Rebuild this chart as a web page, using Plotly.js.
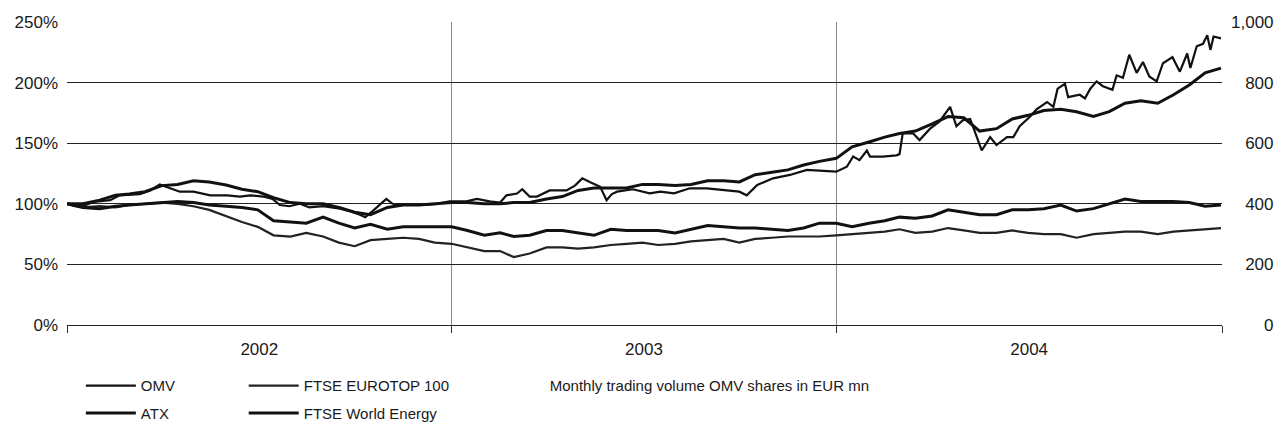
<!DOCTYPE html>
<html>
<head>
<meta charset="utf-8">
<script src="https://cdn.plot.ly/plotly-3.0.1.min.js"></script>
<style>
  html, body { margin: 0; padding: 0; background: #fff; }
  #chart { width: 1277px; height: 432px; }
</style>
</head>
<body>
<div id="chart"></div>
<script>
// Semi-monthly observation dates (ATX, FTSE EUROTOP 100, FTSE World Energy)
var dates = [
  '2002-01-01','2002-01-16','2002-02-01','2002-02-16','2002-03-01','2002-03-16','2002-04-01','2002-04-16','2002-05-01','2002-05-16','2002-06-01','2002-06-16',
  '2002-07-01','2002-07-16','2002-08-01','2002-08-16','2002-09-01','2002-09-16','2002-10-01','2002-10-16','2002-11-01','2002-11-16','2002-12-01','2002-12-16',
  '2003-01-01','2003-01-16','2003-02-01','2003-02-16','2003-03-01','2003-03-16','2003-04-01','2003-04-16','2003-05-01','2003-05-16','2003-06-01','2003-06-16',
  '2003-07-01','2003-07-16','2003-08-01','2003-08-16','2003-09-01','2003-09-16','2003-10-01','2003-10-16','2003-11-01','2003-11-16','2003-12-01','2003-12-16',
  '2004-01-01','2004-01-16','2004-02-01','2004-02-16','2004-03-01','2004-03-16','2004-04-01','2004-04-16','2004-05-01','2004-05-16','2004-06-01','2004-06-16',
  '2004-07-01','2004-07-16','2004-08-01','2004-08-16','2004-09-01','2004-09-16','2004-10-01','2004-10-16','2004-11-01','2004-11-16','2004-12-01','2004-12-16',
  '2004-12-31'
];

var atx = [
  100,100,103,107,108,110,115,116,119,118,115.5,112,110,105,101,100,100,97,93,91,97,99,99,100,
  101,101,100,100,101,101,104,106,111,113,113,113,116,116,115,116,119,119,118,124,126,128,132,135,
  137.5,147,151,155,158,160,166,172,171,160,162,170,173,177,178,176,172,176,183,185,183,190,198,208,212
];

var worldEnergy = [
  100,97,96,98,99,100,101,102,101,99,98,97,95,
  86,85,84,89,84,80,83,79,81,81,81,
  81,
  78,74,76,73,74,78,78,76,74,79,78,78,
  78,76,79,82,81,80,80,79,78,80,84,84,
  81,84,86,89,88,90,95,93,91,91,95,95,
  96,99,94,96,100,104,102,102,102,101,98,99
];

var eurotop = [
  100,97,98,97,99,100,101,100,98,95,90,85,81,74,73,76,73,68,65,70,71,72,71,68,67,
  64,61,61,56,59,64,64,63,64,66,67,68,
  66,67,69,70,71,68,71,72,73,73,73,74,75,76,77,79,76,77,
  80,78,76,76,78,76,75,75,72,75,76,77,77,75,77,78,79,80
];

// OMV share price (own, denser observation dates)
var omvDates = [
  '2002-01-01','2002-01-09','2002-01-16','2002-01-26','2002-02-11','2002-02-20','2002-03-11','2002-03-21','2002-03-30','2002-04-09',
  '2002-04-18','2002-05-01','2002-05-17','2002-06-02','2002-06-14','2002-06-24','2002-07-06','2002-07-15','2002-07-22','2002-07-31',
  '2002-08-10','2002-08-19','2002-09-01','2002-09-17','2002-09-26','2002-10-06','2002-10-11','2002-10-18','2002-10-25','2002-10-31',
  '2002-11-06','2002-11-19','2002-12-05','2002-12-18','2002-12-30',
  '2003-01-15','2003-01-25','2003-02-06','2003-02-16','2003-02-22','2003-03-04','2003-03-09','2003-03-16','2003-03-23','2003-04-04',
  '2003-04-20','2003-04-28','2003-05-05','2003-05-12','2003-05-22','2003-05-28','2003-06-02','2003-06-07','2003-06-22','2003-07-08',
  '2003-07-18','2003-07-31','2003-08-15','2003-08-31','2003-09-19','2003-10-01','2003-10-08','2003-10-18','2003-11-02','2003-11-18',
  '2003-12-04','2003-12-19',
  '2004-01-01','2004-01-11','2004-01-17','2004-01-23','2004-01-30','2004-02-02','2004-02-14','2004-02-27','2004-03-01','2004-03-04',
  '2004-03-14','2004-03-20','2004-03-30','2004-04-08','2004-04-15','2004-04-18','2004-04-24','2004-04-30','2004-05-07','2004-05-13',
  '2004-05-18','2004-05-26','2004-06-01','2004-06-11','2004-06-17','2004-06-23','2004-07-03','2004-07-09','2004-07-19','2004-07-25',
  '2004-07-29','2004-08-05','2004-08-08','2004-08-19','2004-08-24','2004-08-29','2004-09-04','2004-09-10','2004-09-19','2004-09-23',
  '2004-09-29','2004-10-05','2004-10-12','2004-10-18','2004-10-24','2004-10-31','2004-11-06','2004-11-15','2004-11-22','2004-11-29',
  '2004-12-02','2004-12-08','2004-12-14','2004-12-18','2004-12-21','2004-12-24','2004-12-31'
];
var omv = [
  100,98,98,101.5,103,107,108,111,116,113,
  110,110,107,107,106,107,106,104,99,98,
  100,97,98,96,94,91,89,94,99,104,
  100,99,99,100,102,
  102,104,102,101,107,108.5,112,106,106,111,
  111,115,121,118,114,103,108,110,112,108.6,
  110,108.6,112.8,112.8,111,110,107,115.5,121,123.8,
  128,127,
  126.5,130.6,139,136,144,139,139,140,141,158,
  158,152.6,162,168,177,180,164,169,170,155,
  144,155,148.5,155,155,164,172,178,184,180,
  195,199,188,190,187,195,201,197,194,206,
  204,223,208,217,205,201,216,221,209,224,
  212,230,232,239,227,238,236.5
];

// Monthly trading volume: bars are not legible in the source, so no values are drawn
var volumeDates = ['2002-01-01'];
var volume = [null];

var seriesNames = ['OMV', 'ATX', 'FTSE EUROTOP 100', 'FTSE World Energy'];
var volumeLabel = 'Monthly trading volume OMV shares in EUR mn';

var leftTickVals = [0, 50, 100, 150, 200, 250];
var leftTickText = ['0%', '50%', '100%', '150%', '200%', '250%'];
var rightTickVals = [0, 200, 400, 600, 800, 1000];
var rightTickText = ['\u00a0\u00a0\u00a0\u00a0\u00a0\u00a0\u00a00', '\u00a0\u00a0\u00a0200', '\u00a0\u00a0\u00a0400', '\u00a0\u00a0\u00a0600', '\u00a0\u00a0\u00a0800', '1,000'];

var FONT = '"Liberation Sans", Arial, Helvetica, sans-serif';
var INK = '#1a1a1a';

var traces = [
  { x: omvDates, y: omv, name: seriesNames[0], type: 'scatter', mode: 'lines',
    line: { color: '#111', width: 2.2 }, legend: 'legend', legendgroup: 'a' },
  { x: dates, y: atx, name: seriesNames[1], type: 'scatter', mode: 'lines',
    line: { color: '#111', width: 3 }, legend: 'legend', legendgroup: 'b' },
  { x: dates, y: eurotop, name: seriesNames[2], type: 'scatter', mode: 'lines',
    line: { color: '#222', width: 2.2 }, legend: 'legend2', legendgroup: 'c' },
  { x: dates, y: worldEnergy, name: seriesNames[3], type: 'scatter', mode: 'lines',
    line: { color: '#111', width: 3 }, legend: 'legend2', legendgroup: 'd' },
  { x: volumeDates, y: volume, name: volumeLabel, type: 'bar', yaxis: 'y2',
    marker: { color: 'rgba(0,0,0,0)', line: { width: 0 } },
    legend: 'legend3', legendgroup: 'e', hoverinfo: 'skip' }
];

var legendBase = {
  orientation: 'v', yanchor: 'top', xanchor: 'left',
  xref: 'paper', yref: 'container',
  bgcolor: 'rgba(0,0,0,0)', borderwidth: 0,
  font: { family: FONT, size: 15, color: INK },
  itemwidth: 50, traceorder: 'grouped', tracegroupgap: 5
};

var layout = {
  width: 1277, height: 432,
  margin: { l: 67, r: 55, t: 22, b: 107, autoexpand: false },
  paper_bgcolor: '#fff', plot_bgcolor: '#fff',
  font: { family: FONT, size: 17, color: INK },
  showlegend: true,
  legend: Object.assign({}, legendBase, { x: 0.012, y: 0.145 }),
  legend2: Object.assign({}, legendBase, { x: 0.153, y: 0.145 }),
  legend3: Object.assign({}, legendBase, { x: 0.366, y: 0.145 }),
  xaxis: {
    type: 'date',
    range: ['2002-01-01', '2005-01-01'],
    tick0: '2002-01-01', dtick: 'M12', tickformat: '%Y',
    ticklabelmode: 'period',
    ticks: 'outside', ticklen: 7, tickcolor: '#333', tickwidth: 1,
    showgrid: true, gridcolor: '#8a8a8a', gridwidth: 1,
    showline: true, linecolor: '#222', linewidth: 1,
    tickfont: { family: FONT, size: 17, color: INK },
    ticklabelstandoff: 2,
    fixedrange: true
  },
  yaxis: {
    range: [0, 250],
    tickmode: 'array', tickvals: leftTickVals, ticktext: leftTickText,
    ticks: '',
    showgrid: true, gridcolor: '#222', gridwidth: 1,
    zeroline: true, zerolinecolor: '#222', zerolinewidth: 1,
    showline: false,
    tickfont: { family: FONT, size: 17, color: INK },
    ticklabelstandoff: 8,
    fixedrange: true
  },
  yaxis2: {
    overlaying: 'y', side: 'right', anchor: 'x',
    range: [0, 1000],
    tickmode: 'array', tickvals: rightTickVals, ticktext: rightTickText,
    ticks: '', showgrid: false, zeroline: false, showline: false,
    tickfont: { family: FONT, size: 17, color: INK },
    ticklabelstandoff: 8,
    fixedrange: true
  }
};

Plotly.newPlot('chart', traces, layout, { displayModeBar: false, staticPlot: true });
</script>
</body>
</html>
